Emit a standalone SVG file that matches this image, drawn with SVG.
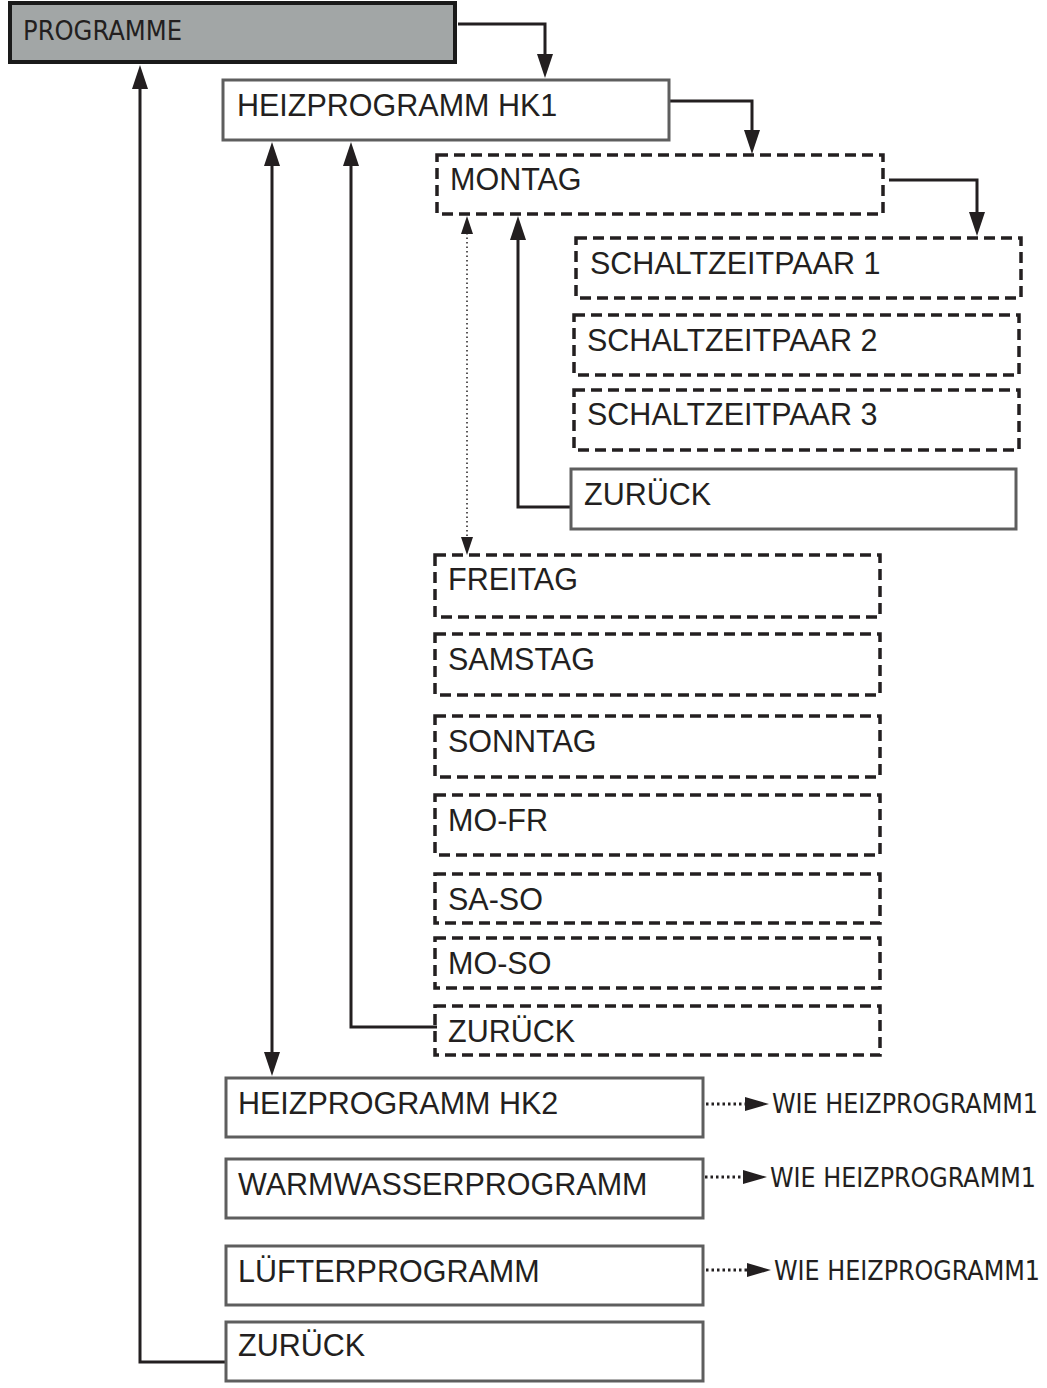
<svg xmlns="http://www.w3.org/2000/svg" width="1047" height="1388" viewBox="0 0 1047 1388">
<style>
.solid{fill:#fff;stroke:#5e5e5e;stroke-width:3}
.dash{fill:none;stroke:#231f20;stroke-width:3.5;stroke-dasharray:11 6}
.t{font-family:"Liberation Sans",Arial,sans-serif;font-size:30.5px;fill:#231f20}
.c{font-family:"DejaVu Sans Condensed","DejaVu Sans",sans-serif;font-stretch:condensed;font-size:27px;fill:#231f20}
.ln{fill:none;stroke:#231f20;stroke-width:3}
.dot{fill:none;stroke:#231f20;stroke-width:1.5;stroke-dasharray:1.5 3}
.dot2{fill:none;stroke:#231f20;stroke-width:3;stroke-dasharray:2.5 3}
</style>
<defs>
<marker id="ah" viewBox="0 0 24 16" refX="14" refY="8" markerWidth="24" markerHeight="16" markerUnits="userSpaceOnUse" orient="auto-start-reverse">
<path d="M0,0 L24,8 L0,16 z" fill="#231f20"/>
</marker>
<marker id="sh" viewBox="0 0 18 12" refX="10" refY="6" markerWidth="18" markerHeight="12" markerUnits="userSpaceOnUse" orient="auto-start-reverse">
<path d="M0,0 L18,6 L0,12 z" fill="#231f20"/>
</marker>
<marker id="wh" viewBox="0 0 24 14" refX="2" refY="7" markerWidth="24" markerHeight="14" markerUnits="userSpaceOnUse" orient="auto">
<path d="M0,0 L24,7 L0,14 z" fill="#231f20"/>
</marker>
</defs>

<g id="connectors">
<path class="ln" d="M458,24 H545 V68" marker-end="url(#ah)"/>
<path class="ln" d="M669,101 H752 V144" marker-end="url(#ah)"/>
<path class="ln" d="M889,180 H977 V226" marker-end="url(#ah)"/>
<path class="ln" d="M571,507 H518 V226" marker-end="url(#ah)"/>
<path class="dot" d="M467,224 V547" marker-start="url(#sh)" marker-end="url(#sh)"/>
<path class="ln" d="M437,1027 H351 V152" marker-end="url(#ah)"/>
<path class="ln" d="M272,152 V1066" marker-start="url(#ah)" marker-end="url(#ah)"/>
<path class="ln" d="M226,1362 H140 V75" marker-end="url(#ah)"/>
<path class="dot2" d="M706,1104 H747" marker-end="url(#wh)"/>
<path class="dot2" d="M705,1177 H745" marker-end="url(#wh)"/>
<path class="dot2" d="M706,1270 H749" marker-end="url(#wh)"/>
</g>

<g id="programme">
<rect x="10" y="3" width="445" height="59" fill="#a2a6a6" stroke="#1a1a1a" stroke-width="4"/>
<text class="c" x="23" y="40" textLength="159" lengthAdjust="spacingAndGlyphs">PROGRAMME</text>
</g>
<g id="hk1"><rect class="solid" x="223" y="80" width="446" height="60"/><text class="t" x="237" y="116">HEIZPROGRAMM HK1</text></g>
<g id="montag"><rect class="dash" x="437" y="155" width="446" height="59"/><text class="t" x="450" y="190">MONTAG</text></g>
<g id="s1"><rect class="dash" x="576" y="238" width="445" height="60"/><text class="t" x="590" y="274">SCHALTZEITPAAR 1</text></g>
<g id="s2"><rect class="dash" x="574" y="315" width="445" height="60"/><text class="t" x="587" y="351">SCHALTZEITPAAR 2</text></g>
<g id="s3"><rect class="dash" x="574" y="390" width="445" height="60"/><text class="t" x="587" y="425">SCHALTZEITPAAR 3</text></g>
<g id="zurueck1"><rect class="solid" x="571" y="469" width="445" height="60"/><text class="t" x="584" y="505">ZURÜCK</text></g>
<g id="freitag"><rect class="dash" x="435" y="555" width="445" height="62"/><text class="t" x="448" y="590">FREITAG</text></g>
<g id="samstag"><rect class="dash" x="435" y="634" width="445" height="61"/><text class="t" x="448" y="670">SAMSTAG</text></g>
<g id="sonntag"><rect class="dash" x="435" y="716" width="445" height="61"/><text class="t" x="448" y="752">SONNTAG</text></g>
<g id="mofr"><rect class="dash" x="435" y="795" width="445" height="60"/><text class="t" x="448" y="831">MO-FR</text></g>
<g id="saso"><rect class="dash" x="435" y="874" width="445" height="49"/><text class="t" x="448" y="910">SA-SO</text></g>
<g id="moso"><rect class="dash" x="435" y="938" width="445" height="50"/><text class="t" x="448" y="974">MO-SO</text></g>
<g id="zurueck2"><rect class="dash" x="435" y="1006" width="445" height="49"/><text class="t" x="448" y="1042">ZURÜCK</text></g>
<g id="hk2"><rect class="solid" x="226" y="1078" width="477" height="59"/><text class="t" x="238" y="1114">HEIZPROGRAMM HK2</text></g>
<g id="ww"><rect class="solid" x="226" y="1159" width="477" height="59"/><text class="t" x="238" y="1195">WARMWASSERPROGRAMM</text></g>
<g id="luefter"><rect class="solid" x="226" y="1246" width="477" height="59"/><text class="t" x="238" y="1282">LÜFTERPROGRAMM</text></g>
<g id="zurueck3"><rect class="solid" x="226" y="1322" width="477" height="59"/><text class="t" x="238" y="1356">ZURÜCK</text></g>
<g id="wie1"><text class="c" x="772" y="1113" textLength="266" lengthAdjust="spacingAndGlyphs">WIE HEIZPROGRAMM1</text></g>
<g id="wie2"><text class="c" x="770" y="1187" textLength="266" lengthAdjust="spacingAndGlyphs">WIE HEIZPROGRAMM1</text></g>
<g id="wie3"><text class="c" x="774" y="1280" textLength="266" lengthAdjust="spacingAndGlyphs">WIE HEIZPROGRAMM1</text></g>
</svg>
